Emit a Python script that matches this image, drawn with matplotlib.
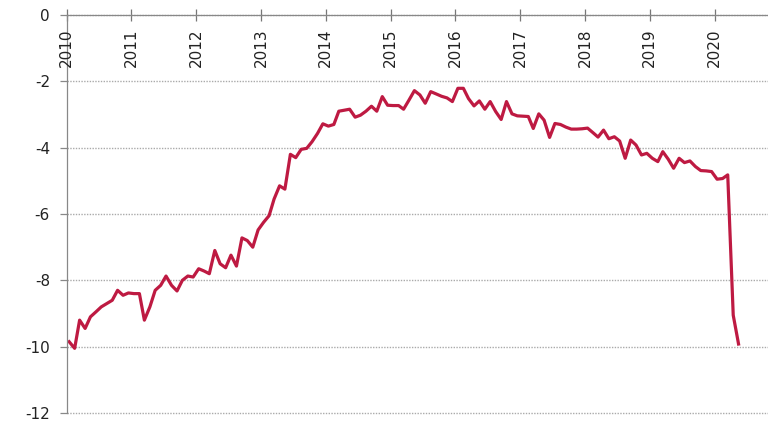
import matplotlib
matplotlib.use('Agg')
import matplotlib.pyplot as plt
import matplotlib.dates as mdates
import pandas as pd

# monthly values
v2010 = [-9.85, -10.05, -9.2, -9.45, -9.1, -8.95, -8.8, -8.7, -8.6, -8.3, -8.45, -8.38]
v2011 = [-8.4, -8.4, -9.2, -8.8, -8.3, -8.15, -7.87, -8.15, -8.32, -8.0, -7.87, -7.9]
v2012 = [-7.65, -7.72, -7.8, -7.1, -7.5, -7.62, -7.24, -7.57, -6.72, -6.8, -7.0, -6.48]
v2013 = [-6.25, -6.05, -5.55, -5.15, -5.25, -4.2, -4.3, -4.05, -4.02, -3.82, -3.57, -3.28]
v2014 = [-3.35, -3.3, -2.9, -2.87, -2.84, -3.08, -3.02, -2.9, -2.75, -2.9, -2.46, -2.72]
v2015 = [-2.73, -2.73, -2.84, -2.56, -2.28, -2.41, -2.66, -2.31, -2.38, -2.45, -2.5, -2.61]
v2016 = [-2.21, -2.21, -2.52, -2.74, -2.59, -2.84, -2.61, -2.91, -3.15, -2.61, -2.98, -3.04]
v2017 = [-3.05, -3.06, -3.42, -2.98, -3.17, -3.69, -3.27, -3.3, -3.38, -3.44, -3.44, -3.43]
v2018 = [-3.41, -3.55, -3.68, -3.47, -3.73, -3.67, -3.8, -4.32, -3.77, -3.92, -4.22, -4.17]
v2019 = [-4.32, -4.42, -4.12, -4.35, -4.62, -4.32, -4.45, -4.4, -4.57, -4.69, -4.7, -4.72]
v2020 = [-4.95, -4.93, -4.82, -9.05, -9.92]

years = list(range(2010, 2021))
yticks = [0, -2, -4, -6, -8, -10, -12]

values = v2010 + v2011 + v2012 + v2013 + v2014 + v2015 + v2016 + v2017 + v2018 + v2019 + v2020
dates = pd.date_range('2010-01-01', periods=len(values), freq='MS') + pd.Timedelta(days=14)
df = pd.DataFrame({'date': dates, 'value': values})

plt.rcParams['font.family'] = 'DejaVu Sans'
fig = plt.figure(figsize=(7.68, 4.23), dpi=100)
ax = fig.add_axes([0.0868, 0.0236, 0.9132, 0.9409])

ax.plot(df['date'], df['value'], color='#BE1A42', lw=2.3, solid_joinstyle='round')

ax.set_ylim(-12, 0)
ax.set_xlim(pd.Timestamp('2010-01-01'), pd.Timestamp('2020-10-28'))
ax.set_yticks(yticks)
ax.set_yticklabels([str(t) for t in yticks], fontsize=11, color='#222222')
ax.tick_params(axis='y', length=5, width=0.9, color='#888888', pad=7)

# horizontal dotted grid (keep the -12 line whole at the bottom edge)
ax.grid(axis='y', linestyle=(0, (1, 1)), color='#aaaaaa', lw=1.0)
ax.set_axisbelow(True)
for gl in ax.get_ygridlines():
    gl.set_clip_on(False)

# x axis along the top, labels sit inside under the spine
ax.xaxis.set_ticks_position('top')
ax.set_xticks([pd.Timestamp(f'{y}-01-01') for y in years])
ax.set_xticklabels([])
ax.tick_params(axis='x', direction='inout', length=9, width=0.9, color='#777777')
for y in years:
    ax.text(mdates.date2num(pd.Timestamp(f'{y}-01-01')), 0.967, str(y),
            transform=ax.get_xaxis_transform(), rotation=90,
            ha='center', va='top', fontsize=11, color='#222222')

for s in ['right', 'bottom']:
    ax.spines[s].set_visible(False)
for s in ['top', 'left']:
    ax.spines[s].set_color('#888888')
    ax.spines[s].set_linewidth(0.9)

fig.savefig('out.png', dpi=100)
